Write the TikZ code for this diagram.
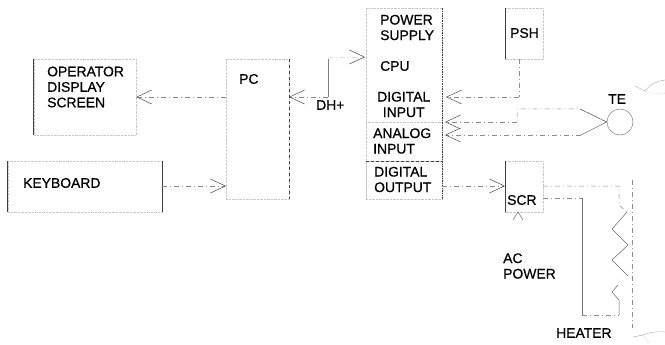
\documentclass[tikz,border=0pt]{standalone}
\usepackage{fontspec}
\setmainfont{Liberation Sans}[FakeBold=0.6]
\usetikzlibrary{arrows.meta,positioning}

\begin{document}
\begin{tikzpicture}[x=1pt, y=-1pt,
    unit/.style={draw=black!22, densely dotted, inner sep=0pt},
    edge/.style={draw=black!75, line width=0.7pt},
    wire/.style={draw=black!45, line width=0.5pt, dash pattern=on 5pt off 3pt on 1pt off 3pt},
    sig/.style={wire, -{Straight Barb[length=15pt,width=14pt,line width=0.5pt,black!70]}},
    lbl/.style={font=\fontsize{13.9}{15.5}\selectfont, inner sep=0pt, anchor=west, align=left}]
  \useasboundingbox (0,0) rectangle (665,345);

  \node[unit, minimum width=102pt, minimum height=76pt] (screen) at (85,97) {};
  \node[unit, minimum width=154pt, minimum height=51pt] (keyboard) at (85,186.5) {};
  \node[unit, minimum width=63pt, minimum height=140pt] (pc) at (257.5,129) {};
  \node[unit, minimum width=76pt, minimum height=191pt] (rack) at (404,103.5) {};
  \node[unit, minimum width=76pt, minimum height=39pt] (analog) at (404,141.5) {};
  \node[unit, minimum width=76pt, minimum height=38pt] (digout) at (404,180) {};
  \node[unit, minimum width=38pt, minimum height=51pt] (psh) at (524.5,33.5) {};
  \node[unit, minimum width=38pt, minimum height=51pt] (scr) at (524.5,186.5) {};
  \node[circle, draw=black!50, line width=0.5pt, minimum size=26pt, inner sep=0pt] (te) at (620,122) {};

  \foreach \a in {screen,keyboard,psh,scr} {
    \draw[edge] (\a.north west) -- (\a.south west);
  }
  \draw[edge] (keyboard.north east) -- (keyboard.south east);
  \draw[edge, dashed] (pc.north east) -- (pc.south east);
  \draw[edge, densely dotted, line width=0.5pt] (rack.north east) -- (rack.south east);
  \draw[edge, line width=0.4pt, densely dashed] (digout.north west) -- (digout.north east);

  \foreach \n/\x/\y/\t in {
      tscreen/47/87/{OPERATOR\\DISPLAY\\SCREEN},
      tkeyboard/23/183/{KEYBOARD},
      tpc/239/79/{PC},
      tdh/316/105/{DH+},
      tpower/380/27.5/{POWER\\SUPPLY},
      tcpu/380/66/{CPU},
      tanalog/373/141/{ANALOG\\INPUT},
      tdigout/374/179.5/{DIGITAL\\OUTPUT},
      tpsh/510/33/{PSH},
      tte/608/99/{TE},
      tscr/507/200/{SCR},
      tac/503/266/{AC\\POWER},
      theater/556/333/{HEATER}} {
    \node[lbl] (\n) at (\x,\y) {\t};
  }
  \node[lbl, align=center] (tdigin) at (377,104.5) {DIGITAL\\INPUT};

  \coordinate (dhtop) at (328,59);
  \coordinate (dhcorner) at (328,97);
  \coordinate (cpuin) at (365,57);
  \coordinate (dhbus) at (328,57);
  \coordinate (pshdrop) at (519,59);
  \coordinate (pshturn) at (519,97);
  \coordinate (digin) at (446,97);
  \coordinate (teup) at (580,109);
  \coordinate (teupl) at (517,109);
  \coordinate (teupd) at (517,122);
  \coordinate (aintop) at (445,122);
  \coordinate (tedown) at (581,135);
  \coordinate (ainlow) at (445,135);
  \coordinate (pcout) at (226,97);
  \coordinate (keyout) at (162,186);
  \coordinate (pcin) at (226,186);
  \coordinate (dhend) at (289,97);
  \coordinate (doutfrom) at (442,186);
  \coordinate (scrin) at (505,186);
  \coordinate (scrout) at (543,186);
  \coordinate (scrback) at (543,198);
  \coordinate (busleft) at (582,198);
  \coordinate (busdown) at (582,315);
  \coordinate (busend) at (619,315);
  \coordinate (acend) at (518,212);

  \draw[sig] (pcout) -- (screen.east);
  \draw[sig] (keyout) -- (pcin);
  \draw[sig] (dhcorner) -- (dhend);
  \draw[edge, draw=black!50] (dhtop) -- (dhcorner);
  \draw[sig, draw=black!12] (dhbus) -- (cpuin);
  \draw[wire] (pshdrop) -- (pshturn);
  \draw[sig] (pshturn) -- (digin);
  \draw[wire] (te.west) -- (teup) -- (teupl) -- (teupd);
  \draw[sig] (teupd) -- (aintop);
  \draw[draw=black!60, line width=0.5pt] (te.west) -- (teup);
  \draw[draw=black!60, line width=0.5pt] (te.west) -- (tedown);
  \draw[sig] (tedown) -- (ainlow);
  \draw[sig] (doutfrom) -- (scrin);
  \draw[draw=black!60, line width=0.5pt] (513,220) -- (acend) -- (523,220);

  \draw[wire] (scrout) -- (619,186) -- (619,205) -- (627,212);
  \draw[draw=black!60, line width=0.5pt] (627,212) -- (612,229) -- (628,245) -- (612,260) -- (628,276);
  \draw[draw=black!60, line width=0.5pt] (618,285) -- (612,292) -- (619,300) -- (busend);
  \draw[wire] (scrback) -- (busleft);
  \draw[edge, draw=black!55, line width=1pt] (busleft) -- (busdown);
  \draw[wire] (busdown) -- (busend);
  \draw[wire] (632,180) -- (632,328);

  \draw[draw=black!35, line width=0.4pt] (635,86) -- (645,91) .. controls (650,84) and (657,81) .. (665,80);
  \draw[draw=black!35, line width=0.4pt, densely dotted] (645,91) .. controls (651,94) and (658,94) .. (665,93);
  \draw[draw=black!35, line width=0.4pt] (633,337) -- (643,335) .. controls (648,333) and (655,331) .. (665,332);
  \draw[draw=black!35, line width=0.4pt, densely dotted] (643,335) -- (650,343);
\end{tikzpicture}
\end{document}
